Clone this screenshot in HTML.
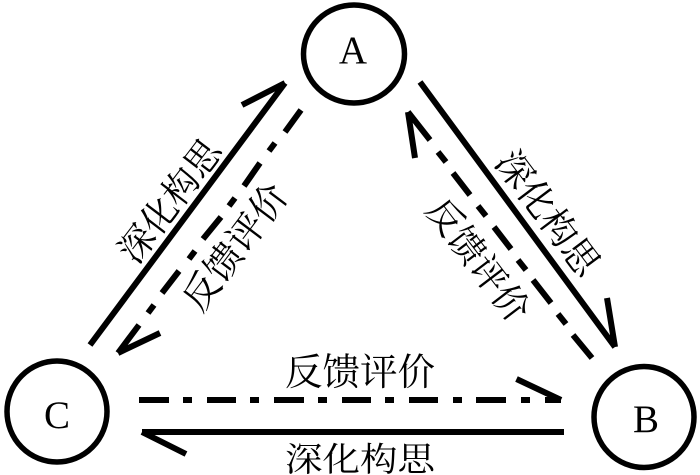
<!DOCTYPE html>
<html>
<head>
<meta charset="utf-8">
<style>
html,body{margin:0;padding:0;background:#fff;width:700px;height:475px;overflow:hidden}
svg{display:block}
text{font-family:"Liberation Serif","Noto Serif CJK SC",serif;fill:#000}
.l{font-size:37.5px;text-anchor:middle}
.n{font-size:39px;text-anchor:middle}
</style>
</head>
<body>
<svg width="700" height="475" viewBox="0 0 700 475" xmlns="http://www.w3.org/2000/svg">
<g fill="none" stroke="#000" stroke-width="5.5">
<ellipse cx="354" cy="54" rx="50.5" ry="49"/>
<ellipse cx="57" cy="411.5" rx="50" ry="50.5"/>
<ellipse cx="644" cy="417" rx="50" ry="50.5"/>
</g>
<g fill="none" stroke="#000" stroke-width="6" stroke-linecap="butt">
<!-- C to A solid -->
<path d="M90 345L285 83M242 105L285 83"/>
<!-- A to C dash-dot -->
<path d="M301 110L285 132M275 143L269 151M260 163L244 186M235 198L229 206M221 217L203 239M195 251L189 259M179 271L162 293M154 305L148 313M139 325L118 353M160 333L118 353"/>
<!-- A to B solid -->
<path d="M420 82L615 347M607 298L615 347"/>
<!-- B to A dash-dot -->
<path d="M408 112L415 158M408 112L430 140M438 152L446 162M453 173L470 195M478 206L486 216M494 227L511 249M518 260L526 270M533 280L551 303M558 314L566 324M573 335L592 358"/>
<!-- C to B dash-dot -->
<path d="M139 400H169M183 400H192M207 400H236M250 400H259M274 400H304M318 400H327M342 400H371M385 400H394M409 400H438M453 400H462M476 400H506M521 400H530M545 400H561M516.5 379L561 400"/>
<!-- B to C solid -->
<path d="M564 432H142M142 432L186 454"/>
</g>
<text class="n" x="353" y="63">A</text>
<text class="n" x="57" y="428">C</text>
<text class="n" x="646" y="432">B</text>
<text class="l" x="360" y="385">反馈评价</text>
<text class="l" transform="translate(360 471) scale(1 .9)">深化构思</text>
<text class="l" style="font-size:36px" transform="translate(170 201) rotate(-52.6) translate(0 12.5)">深化构思</text>
<text class="l" style="font-size:37px" transform="translate(235 247) rotate(-53) translate(0 13)">反馈评价</text>
<text class="l" style="font-size:36.5px" transform="translate(548 213) rotate(53) translate(0 13)">深化构思</text>
<text class="l" style="font-size:36px" transform="translate(478 260) rotate(52.7) translate(0 12.5)">反馈评价</text>
</svg>
</body>
</html>
